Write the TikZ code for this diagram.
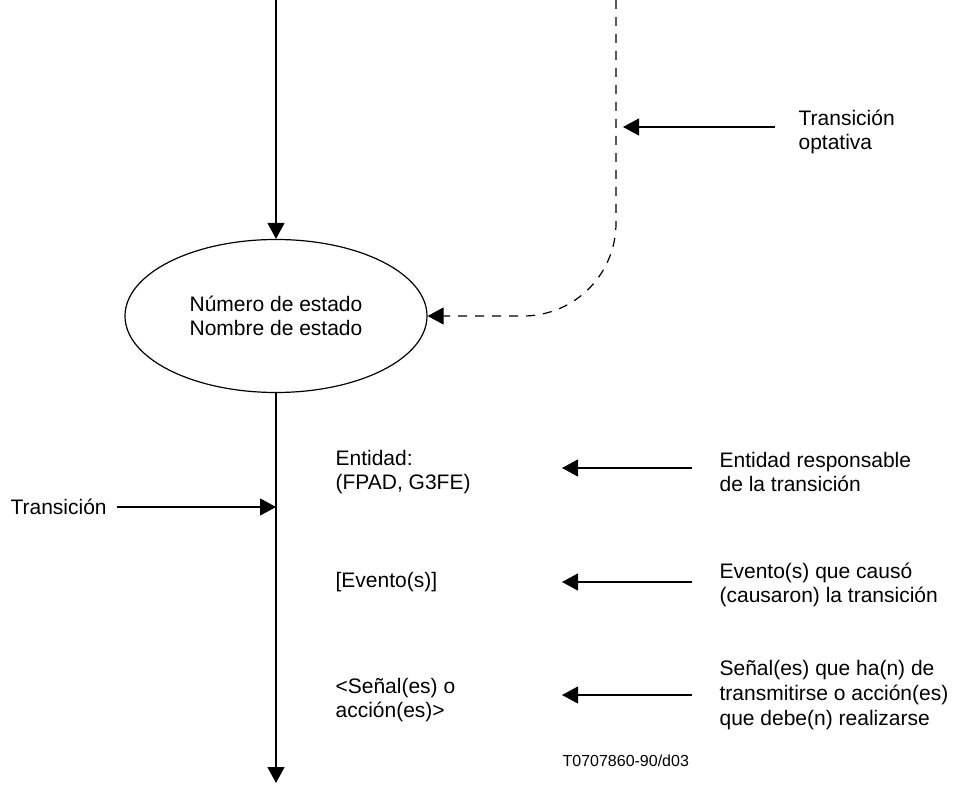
\documentclass[tikz,border=0pt]{standalone}
\usepackage{fontspec}
\setmainfont{Liberation Sans}
\usepackage{tikz}
\usetikzlibrary{arrows.meta,shapes.geometric,positioning,calc}
\tikzset{>={Triangle[length=8pt,width=8.5pt]}}

\begin{document}
\begin{tikzpicture}[x=0.5pt,y=-0.5pt, line width=0.6pt,
		txt/.style={font=\fontsize{10.5pt}{12.3pt}\selectfont, align=left, anchor=west, inner sep=0pt},
		dsh/.style={dash pattern=on 4.5pt off 4pt}]
		\useasboundingbox (0,0) rectangle (957,785);
		% estado
		\node[ellipse, draw, minimum width=151pt, minimum height=76.5pt, inner sep=0pt,
			font=\fontsize{10.5pt}{12.3pt}\selectfont, align=center] (state) at (276,316) {Número de estado\\Nombre de estado};
		\coordinate (top) at (276,0);
		\coordinate (bottom) at (276,783);
		\draw[->] (top) -- (state.north);
		\draw[->] (state.south) -- (bottom);
		% transicion optativa
		\coordinate (dtop) at (616,0);
		\draw[->, dsh, rounded corners=46.5pt] (dtop) |- (state.east);
		\node[txt] (optlbl) at (798,132) {Transición\\optativa};
		\coordinate (opttip) at (623,127);
		\draw[->] (optlbl.west |- opttip) ++(-23,0) -- (opttip);
		% transicion
		\node[txt, inner xsep=5pt] (trans) at (0,507) {Transición};
		\coordinate (transtip) at (276,507);
		\draw[->] (trans) -- (transtip);
		% textos de la transicion
		\node[txt] (ent) at (335,472) {Entidad:\\(FPAD, G3FE)};
		\node[txt] (evt) at (335,582) {[Evento(s)]};
		\node[txt] (sig) at (335,700) {<Señal(es) o\\acción(es)>};
		\node[txt] (entlbl) at (719,472) {Entidad responsable\\de la transición};
		\node[txt] (evtlbl) at (719,585) {Evento(s) que causó\\(causaron) la transición};
		\node[txt] (siglbl) at (719,695) {Señal(es) que ha(n) de\\transmitirse o acción(es)\\que debe(n) realizarse};
		\coordinate (enttip) at (562,468);
		\coordinate (evttip) at (562,582);
		\coordinate (sigtip) at (562,695);
		\draw[->] (entlbl.west |- enttip) ++(-27,0) -- (enttip);
		\draw[->] (evtlbl.west |- evttip) ++(-27,0) -- (evttip);
		\draw[->] (siglbl.west |- sigtip) ++(-27,0) -- (sigtip);
		\node[txt, font=\fontsize{8pt}{9.6pt}\selectfont] (ref) at (562,761) {T0707860-90/d03};
\end{tikzpicture}
\end{document}
